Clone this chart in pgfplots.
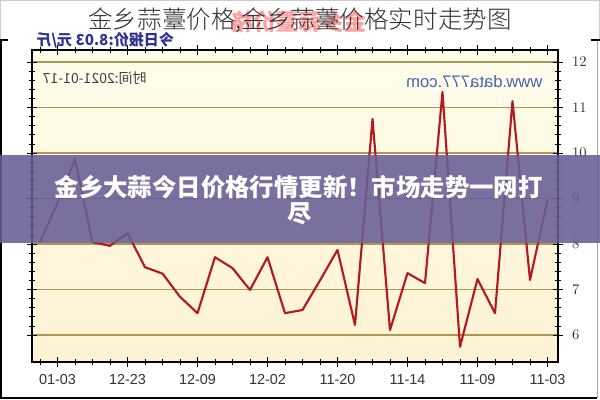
\documentclass[border=0pt]{standalone}
\usepackage{pgfplots}
\pgfplotsset{compat=1.18}
\usepackage{fontspec}
\setmainfont{Liberation Sans}
\newfontfamily\cjk{Noto Sans CJK SC}
\newfontfamily\cjklight{Noto Sans CJK SC Light}
\newfontfamily\cjkheavy{Noto Sans CJK SC Black}
\definecolor{linered}{RGB}{178,26,30}
\definecolor{gridc}{RGB}{176,150,80}
\definecolor{bgtop}{RGB}{255,253,236}
\definecolor{bgbot}{RGB}{253,242,212}
\definecolor{banner}{RGB}{104,94,150}
\definecolor{navy}{RGB}{48,50,145}
\definecolor{webblue}{RGB}{70,100,175}
\pgfplotstableread{
i v
0 8.04
1 8.90
2 9.87
3 8.04
4 7.96
5 8.24
6 7.49
7 7.35
8 6.84
9 6.48
10 7.71
11 7.47
12 6.99
13 7.71
14 6.48
15 6.55
16 7.20
17 7.87
18 6.22
19 10.75
20 6.11
21 7.36
22 7.14
23 11.34
24 5.74
25 7.23
26 6.48
27 11.14
28 7.21
29 8.97
}\pricedata
\begin{document}
\begin{tikzpicture}
\path[use as bounding box, fill=white] (0,0) rectangle (450pt,300pt);
% outer frame
\draw[gray!40, line width=0.8pt] (0.4pt,270pt) -- (0.4pt,299.6pt) -- (449.6pt,299.6pt) -- (449.6pt,270pt);
\draw[black, line width=1.4pt] (0.7pt,270pt) -- (0.7pt,1.2pt) -- (448pt,1.2pt);
\draw[gray!70, line width=1pt] (448pt,1.2pt) -- (448pt,270pt);
\draw[black, line width=1.2pt] (0,270pt) -- (6pt,270pt);
\draw[black, line width=1.2pt] (443pt,270pt) -- (450pt,270pt);
\begin{axis}[
  at={(24pt,28.5pt)}, anchor=south west,
  scale only axis, width=394.5pt, height=234pt,
  xmin=-0.457, xmax=29.6, ymin=5.407, ymax=12.264,
  axis background/.style={top color=bgtop, bottom color=bgbot},
  axis line style={black, line width=0.8pt},
  xtick={1,5,9,13,17,21,25,29},
  xticklabels={01-03,12-23,12-09,12-02,11-20,11-14,11-09,11-03},
  minor xtick={0,...,29},
  ytick={6,...,12},
  minor y tick num=4,
  xtick pos=both, ytick pos=both,
  yticklabel pos=right,
  tick align=center,
  major tick length=8pt, minor tick length=5pt,
  tick style={black, line width=0.6pt},
  ymajorgrids, major grid style={gridc, line width=0.8pt},
  xmajorgrids=false,
  ticklabel style={font=\fontsize{10.8pt}{12pt}\selectfont, text=black!80},
  xticklabel style={yshift=-2pt},
  yticklabel style={xshift=3pt},
]
\addplot[linered, line width=1.6pt, line join=round] table[x=i, y=v] {\pricedata};
\end{axis}
% mirrored texts in the chart
\node[anchor=west, inner sep=0] at (27pt,270pt) {\reflectbox{\cjk\bfseries\color{navy}\fontsize{11.3pt}{12pt}\selectfont 今日报价:8.03 元/斤}};
\node[anchor=west, inner sep=0] at (32pt,241.5pt) {\reflectbox{\cjk\color{black!75}\fontsize{10.5pt}{12pt}\selectfont 时间:2021-01-17}};
\node[anchor=east, inner sep=0] at (407pt,238.5pt) {\reflectbox{\color{webblue}\fontsize{12.5pt}{14pt}\selectfont www.data777.com}};
% title area
\node[inner sep=0, opacity=0.5] at (224pt,283.5pt) {\reflectbox{\cjk\bfseries\color{red!75}\fontsize{17pt}{20pt}\selectfont 金乡蒜薹价格}};
\node[inner sep=0] at (225pt,284.5pt) {\cjklight\color{black!80}\fontsize{18.4pt}{20pt}\selectfont 金乡蒜薹价格,金乡蒜薹价格实时走势图};
% banner
\fill[banner, opacity=0.88] (0,117.75pt) rectangle (450pt,183.75pt);
\node[inner sep=0, text=white] at (224pt,159.75pt) {\cjkheavy\fontsize{18.3pt}{20pt}\selectfont 金乡大蒜今日价格行情更新！市场走势一网打};
\node[inner sep=0, text=white] at (225pt,140pt) {\cjkheavy\fontsize{18.3pt}{20pt}\selectfont 尽};
\end{tikzpicture}
\end{document}
